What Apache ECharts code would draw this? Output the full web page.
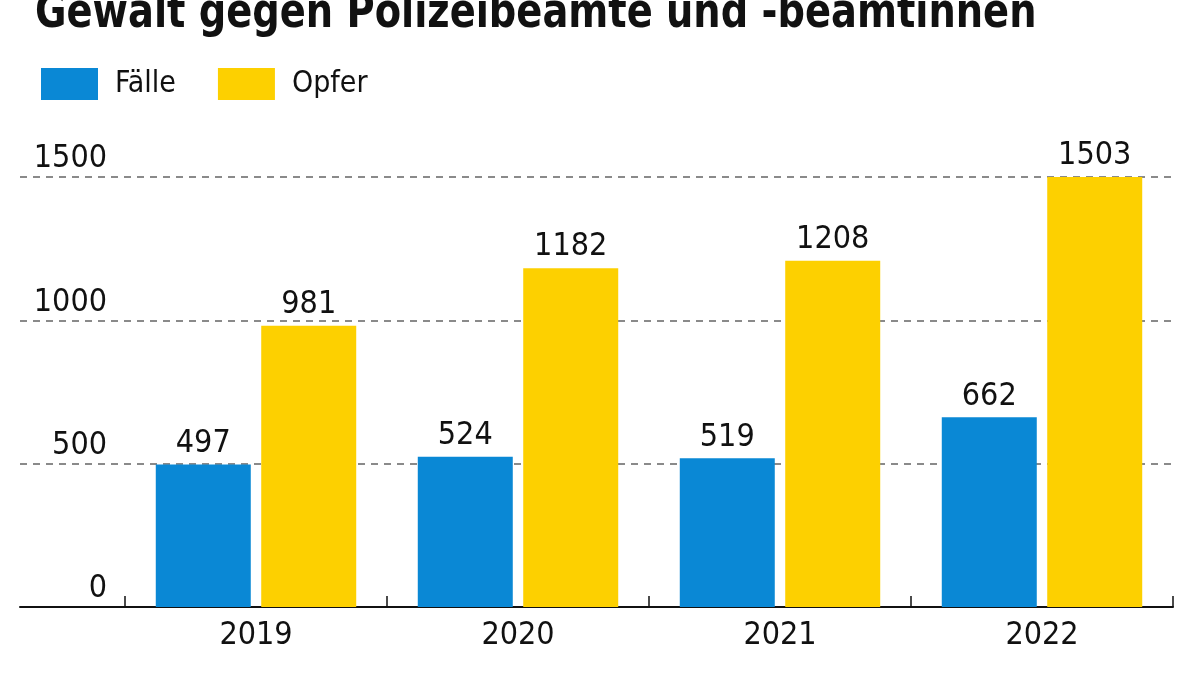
<!DOCTYPE html>
<html>
<head>
<meta charset="utf-8">
<script src="https://cdn.jsdelivr.net/npm/echarts@6/dist/echarts.min.js"></script>
<style>
html,body{margin:0;padding:0;background:#fff;}
#chart{width:1200px;height:675px;}
</style>
</head>
<body>
<div id="chart"></div>
<script>
const titleText = 'Gewalt gegen Polizeibeamte und -beamtinnen';
const years = ['2019', '2020', '2021', '2022'];
const faelle = [497, 524, 519, 662];
const opfer = [981, 1182, 1208, 1503];
const seriesNames = ['Fälle', 'Opfer'];
const yTicks = [0, 500, 1000, 1500];

const FONT = '"Liberation Sans Narrow", "DejaVu Sans Condensed", "Roboto Condensed", sans-serif';
const BLUE = '#0A88D5';
const YELLOW = '#FDD000';
const NUM_SIZE = 32;

const chart = echarts.init(document.getElementById('chart'));
chart.setOption({
  backgroundColor: '#ffffff',
  animation: false,
  graphic: [{
    type: 'text',
    x: 35,
    y: 15,
    scaleX: 0.889,
    style: {
      text: titleText,
      font: 'bold 48px ' + FONT,
      fill: '#111',
      verticalAlign: 'middle'
    }
  }],
  legend: {
    left: 41,
    top: 68,
    padding: 0,
    itemWidth: 57,
    itemHeight: 32,
    itemGap: 42,
    icon: 'rect',
    textStyle: { fontFamily: FONT, fontSize: 30, color: '#111', padding: [0, 0, 0, 12] },
    data: seriesNames
  },
  grid: [
    { left: 20, right: 27, top: 177, bottom: 68 },
    { left: 125, right: 27, top: 177, bottom: 68 }
  ],
  xAxis: [
    {
      gridIndex: 0, type: 'category', data: years,
      axisLine: { show: true, lineStyle: { color: '#111', width: 2 } },
      axisTick: { show: false }, axisLabel: { show: false }, splitLine: { show: false }
    },
    {
      gridIndex: 1, type: 'category', data: years,
      axisLine: { show: false },
      axisTick: { show: true, inside: true, length: 11, lineStyle: { color: '#111', width: 1.5 } },
      axisLabel: { fontFamily: FONT, fontSize: NUM_SIZE, color: '#111', margin: 13 }
    }
  ],
  yAxis: [
    {
      gridIndex: 0, type: 'value', min: 0, max: 1500, interval: 500,
      axisLine: { show: false }, axisTick: { show: false },
      axisLabel: {
        inside: true, margin: 87, align: 'right', verticalAlign: 'bottom',
        padding: [0, 0, 2, 0],
        fontFamily: FONT, fontSize: NUM_SIZE, color: '#111',
        formatter: v => (yTicks.indexOf(v) >= 0 ? String(v) : '')
      },
      splitLine: { show: true, lineStyle: { color: '#8a8a8a', width: 2, type: [7, 6] } }
    },
    {
      gridIndex: 1, type: 'value', min: 0, max: 1500, interval: 500,
      axisLine: { show: false }, axisTick: { show: false }, axisLabel: { show: false },
      splitLine: { show: false }
    }
  ],
  series: [
    {
      name: seriesNames[0], type: 'bar', xAxisIndex: 1, yAxisIndex: 1,
      data: faelle, barWidth: 95, barGap: '11%',
      itemStyle: { color: BLUE },
      label: { show: true, position: 'top', distance: 5, fontFamily: FONT, fontSize: NUM_SIZE, color: '#111' }
    },
    {
      name: seriesNames[1], type: 'bar', xAxisIndex: 1, yAxisIndex: 1,
      data: opfer, barWidth: 95, barGap: '11%',
      itemStyle: { color: YELLOW },
      label: { show: true, position: 'top', distance: 5, fontFamily: FONT, fontSize: NUM_SIZE, color: '#111' }
    }
  ]
});
</script>
</body>
</html>
